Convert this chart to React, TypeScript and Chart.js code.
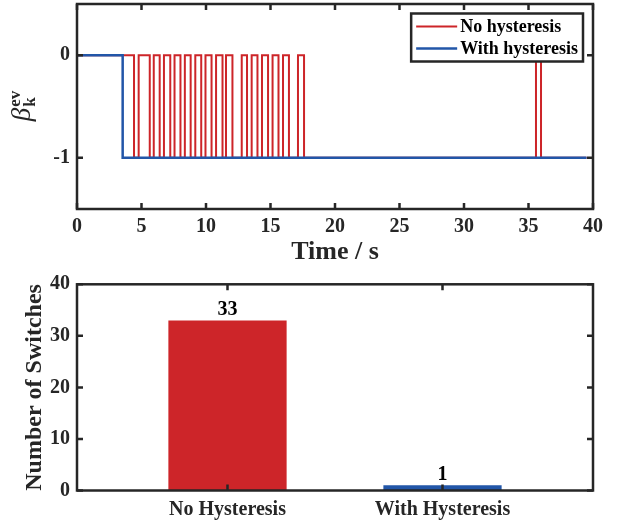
import React, { useEffect, useRef } from "react";
import { Chart, registerables } from "chart.js";
Chart.register(...registerables);

// ---------- data ----------
const seriesNames = ["No hysteresis", "With hysteresis"];
const timeTicks = [0, 5, 10, 15, 20, 25, 30, 35, 40];
const stateTicks = [-1, 0];

// switching instants (s) and the state taken at each instant
const noHystTime = [
  0, 4.42,
  4.78, 5.64,
  5.95, 6.41,
  6.74, 7.23,
  7.56, 8.02,
  8.36, 8.81,
  9.17, 9.63,
  9.96, 10.43,
  10.78, 11.28,
  11.55, 12.05,
  12.77, 13.18,
  13.54, 13.99,
  14.34, 14.81,
  15.16, 15.62,
  15.97, 16.43,
  17.13, 17.6,
  35.58, 35.97,
  39.5,
];
const noHystState = [
  0, -1,
  0, -1,
  0, -1,
  0, -1,
  0, -1,
  0, -1,
  0, -1,
  0, -1,
  0, -1,
  0, -1,
  0, -1,
  0, -1,
  0, -1,
  0, -1,
  0, -1,
  0, -1,
  0, -1,
  -1,
];
const withHystTime = [0, 3.54, 39.5];
const withHystState = [0, -1, -1];

const categories = ["No Hysteresis", "With Hysteresis"];
const switchCounts = [33, 1];
const countTicks = [0, 10, 20, 30, 40];

// ---------- style ----------
const RED = "#CD2529";
const BLUE = "#2256A8";
const AXIS = "#262626";
const FONT = "Liberation Serif";

const zeroPad = (s: any) => {
  s.paddingTop = 0;
  s.paddingBottom = 0;
  s.paddingLeft = 0;
  s.paddingRight = 0;
};

const framePlugin = {
  id: "matlabFrame",
  afterDatasetsDraw(chart: any) {
    const { ctx, chartArea: a, scales } = chart;
    const xs = scales.x;
    const ys = scales.y;
    const tl = 6;
    ctx.save();
    ctx.strokeStyle = AXIS;
    ctx.lineWidth = 2.5;
    ctx.beginPath();
    xs.ticks.forEach((t: any) => {
      const px = xs.getPixelForValue(t.value);
      ctx.moveTo(px, a.bottom);
      ctx.lineTo(px, a.bottom - tl);
      ctx.moveTo(px, a.top);
      ctx.lineTo(px, a.top + tl);
    });
    ys.ticks.forEach((t: any) => {
      const py = ys.getPixelForValue(t.value);
      ctx.moveTo(a.left, py);
      ctx.lineTo(a.left + tl, py);
      ctx.moveTo(a.right, py);
      ctx.lineTo(a.right - tl, py);
    });
    ctx.stroke();
    ctx.strokeRect(a.left, a.top, a.right - a.left, a.bottom - a.top);
    ctx.restore();
  },
};

const legendPlugin = {
  id: "boxLegend",
  afterDraw(chart: any) {
    const { ctx, chartArea: a } = chart;
    const ds = chart.data.datasets;
    ctx.save();
    ctx.font = `bold 18px ${FONT}`;
    const textW = Math.max(...ds.map((d: any) => ctx.measureText(d.label).width));
    const lineLen = 41;
    const w = 5 + lineLen + 3 + textW + 5;
    const h = 48;
    const right = a.right - 10;
    const left = right - w;
    const top = a.top + 9.5;
    ctx.fillStyle = "#fff";
    ctx.fillRect(left, top, w, h);
    ctx.strokeStyle = AXIS;
    ctx.lineWidth = 2.5;
    ctx.strokeRect(left, top, w, h);
    ds.forEach((d: any, i: number) => {
      const y = top + 13 + i * 22;
      ctx.strokeStyle = d.borderColor;
      ctx.lineWidth = d.borderWidth;
      ctx.beginPath();
      ctx.moveTo(left + 5, y);
      ctx.lineTo(left + 5 + lineLen, y);
      ctx.stroke();
      ctx.fillStyle = "#000";
      ctx.textBaseline = "middle";
      ctx.textAlign = "left";
      ctx.fillText(d.label, left + 5 + lineLen + 3, y + 1);
    });
    ctx.restore();
  },
};

const betaLabelPlugin = {
  id: "betaLabel",
  afterDraw(chart: any) {
    const { ctx, chartArea: a } = chart;
    const cy = (a.top + a.bottom) / 2;
    ctx.save();
    ctx.fillStyle = AXIS;
    ctx.textBaseline = "alphabetic";
    ctx.textAlign = "left";
    ctx.font = `italic 27px ${FONT}`;
    const wb = ctx.measureText("\u03B2").width;
    ctx.font = `bold 17px ${FONT}`;
    const we = ctx.measureText("ev").width;
    const total = wb + we;
    ctx.translate(30, cy);
    ctx.rotate(-Math.PI / 2);
    const x0 = -total / 2;
    ctx.font = `italic 27px ${FONT}`;
    ctx.fillText("\u03B2", x0, 0);
    ctx.font = `bold 17px ${FONT}`;
    ctx.fillText("ev", x0 + wb + 1, -10);
    ctx.fillText("k", x0 + wb + 1, 5);
    ctx.restore();
  },
};

const barValuePlugin = {
  id: "barValues",
  afterDatasetsDraw(chart: any) {
    const { ctx } = chart;
    const meta = chart.getDatasetMeta(0);
    const values = chart.data.datasets[0].data;
    ctx.save();
    ctx.font = `bold 20px ${FONT}`;
    ctx.fillStyle = "#000";
    ctx.textAlign = "center";
    ctx.textBaseline = "bottom";
    meta.data.forEach((el: any, i: number) => {
      ctx.fillText(String(values[i].y), el.x, el.y - 1);
    });
    ctx.restore();
  },
};

const tickFont = { family: FONT, size: 20, weight: "bold" as const };
const titleFont = { family: FONT, size: 24, weight: "bold" as const };

export default function App() {
  const topRef = useRef<HTMLCanvasElement>(null);
  const botRef = useRef<HTMLCanvasElement>(null);

  useEffect(() => {
    const topChart = new Chart(topRef.current as HTMLCanvasElement, {
      type: "line",
      data: {
        datasets: [
          {
            label: seriesNames[0],
            data: noHystTime.map((t, i) => ({ x: t, y: noHystState[i] })),
            borderColor: RED,
            borderWidth: 2,
            pointRadius: 0,
            stepped: true,
            fill: false,
            order: 2,
          },
          {
            label: seriesNames[1],
            data: withHystTime.map((t, i) => ({ x: t, y: withHystState[i] })),
            borderColor: BLUE,
            borderWidth: 2.5,
            pointRadius: 0,
            stepped: true,
            fill: false,
            order: 1,
          },
        ],
      },
      options: {
        animation: false,
        responsive: false,
        layout: { padding: { top: 4, right: 26, left: 0, bottom: 0 } },
        plugins: { legend: { display: false }, tooltip: { enabled: false } },
        scales: {
          x: {
            type: "linear",
            min: 0,
            max: 40,
            afterBuildTicks: (s: any) => {
              s.ticks = timeTicks.map((v) => ({ value: v }));
            },
            afterFit: (s: any) => {
              s.height = 59;
              zeroPad(s);
            },
            grid: { display: false, drawTicks: false },
            border: { display: false },
            ticks: { font: tickFont, color: AXIS, padding: 6, maxRotation: 0, autoSkip: false },
            title: {
              display: true,
              text: "Time / s",
              font: { family: FONT, size: 26, weight: "bold" },
              color: AXIS,
              padding: { top: 0, bottom: 0 },
            },
          },
          y: {
            type: "linear",
            min: -1.5,
            max: 0.5,
            afterBuildTicks: (s: any) => {
              s.ticks = stateTicks.map((v) => ({ value: v }));
            },
            afterFit: (s: any) => {
              s.width = 77;
              zeroPad(s);
            },
            grid: { display: false, drawTicks: false },
            border: { display: false },
            ticks: { font: tickFont, color: AXIS, padding: 7 },
          },
        },
      },
      plugins: [framePlugin, legendPlugin, betaLabelPlugin],
    } as any);

    const botChart = new Chart(botRef.current as HTMLCanvasElement, {
      type: "bar",
      data: {
        datasets: [
          {
            data: categories.map((c, i) => ({ x: i + 1, y: switchCounts[i] })),
            backgroundColor: [RED, BLUE],
            borderWidth: 0,
            barPercentage: 0.55,
            categoryPercentage: 1,
          },
        ],
      },
      options: {
        animation: false,
        responsive: false,
        layout: { padding: { top: 16.3, right: 26, left: 0, bottom: 0 } },
        plugins: { legend: { display: false }, tooltip: { enabled: false } },
        scales: {
          x: {
            type: "linear",
            min: 0.3,
            max: 2.7,
            offset: false,
            afterBuildTicks: (s: any) => {
              s.ticks = categories.map((c, i) => ({ value: i + 1 }));
            },
            afterFit: (s: any) => {
              s.height = 34.5;
              zeroPad(s);
            },
            grid: { display: false, drawTicks: false, offset: false },
            border: { display: false },
            ticks: {
              font: tickFont,
              color: AXIS,
              padding: 7,
              maxRotation: 0,
              autoSkip: false,
              callback: (v: any) => categories[Math.round(v) - 1],
            },
          },
          y: {
            type: "linear",
            min: 0,
            max: 40,
            afterBuildTicks: (s: any) => {
              s.ticks = countTicks.map((v) => ({ value: v }));
            },
            afterFit: (s: any) => {
              s.width = 77;
              zeroPad(s);
            },
            grid: { display: false, drawTicks: false },
            border: { display: false },
            ticks: { font: tickFont, color: AXIS, padding: 7 },
            title: {
              display: true,
              text: "Number of Switches",
              font: titleFont,
              color: AXIS,
              padding: { top: 20, bottom: 0 },
            },
          },
        },
      },
      plugins: [framePlugin, barValuePlugin],
    } as any);

    return () => {
      topChart.destroy();
      botChart.destroy();
    };
  }, []);

  return (
    <div style={{ position: "absolute", left: 0, top: 0, width: 619, height: 525, background: "#fff" }}>
      <canvas ref={topRef} width={619} height={268} style={{ position: "absolute", left: 0, top: 0, width: 619, height: 268 }} />
      <canvas ref={botRef} width={619} height={257} style={{ position: "absolute", left: 0, top: 268, width: 619, height: 257 }} />
    </div>
  );
}
